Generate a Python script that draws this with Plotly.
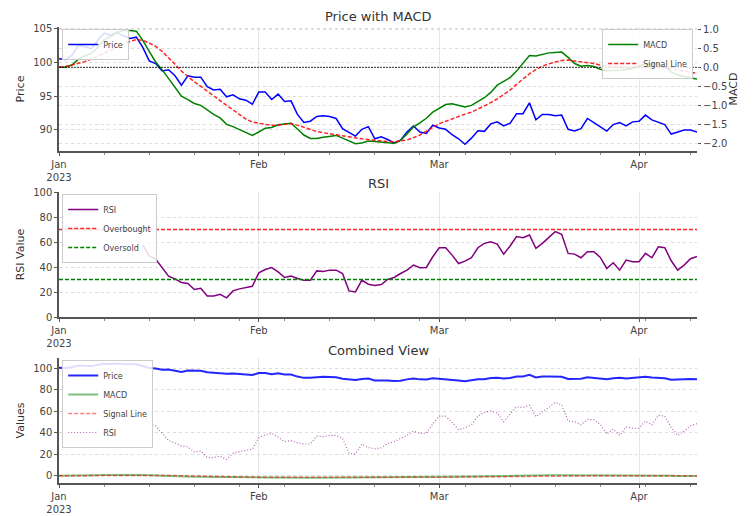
import pandas as pd
import plotly.graph_objects as go
from plotly.subplots import make_subplots

# daily data, 2023-01-01 .. 2023-04-10
dates = pd.date_range("2023-01-01", periods=100, freq="D")

price = [100.5, 100.4, 101.0, 102.5, 102.3, 102.0, 103.2, 104.3, 104.0, 104.4,
         103.9, 103.5, 103.7, 102.2, 100.2, 99.8, 98.7, 98.9, 98.0, 96.6,
         98.0, 97.8, 97.8, 96.4, 95.9, 96.0, 94.9, 95.2, 94.6, 94.4,
         93.8, 95.6, 95.6, 94.5, 95.3, 94.2, 94.3, 92.3, 91.1, 91.3,
         92.0, 92.1, 92.0, 91.7, 90.2, 89.6, 89.1, 90.1, 90.5, 88.7,
         89.0, 88.6, 88.1, 88.5, 89.7, 90.6, 89.7, 89.5, 90.7, 90.3,
         90.1, 89.3, 88.7, 87.9, 88.8, 89.9, 89.8, 90.9, 91.2, 90.6,
         91.0, 92.4, 92.4, 94.0, 91.5, 92.3, 92.3, 92.1, 92.2, 90.1,
         89.85, 90.2, 91.7, 91.1, 90.5, 89.85, 90.8, 91.1, 90.6, 91.2,
         91.3, 92.2, 91.5, 91.2, 90.8, 89.4, 89.7, 90.0, 90.0, 89.7]

macd = [0.0, 0.0, 0.06, 0.21, 0.31, 0.36, 0.52, 0.72, 0.81, 0.92,
        0.97, 0.97, 0.95, 0.71, 0.42, 0.14, -0.06, -0.29, -0.51, -0.76,
        -0.85, -0.95, -1.0, -1.12, -1.24, -1.33, -1.50, -1.56, -1.63, -1.70,
        -1.79, -1.70, -1.60, -1.58, -1.51, -1.49, -1.47, -1.62, -1.78, -1.87,
        -1.87, -1.84, -1.81, -1.79, -1.86, -1.94, -2.01, -1.99, -1.94, -1.95,
        -1.96, -1.98, -2.0, -1.92, -1.75, -1.57, -1.46, -1.34, -1.18, -1.07,
        -0.98, -0.96, -1.0, -1.04, -1.0, -0.9, -0.8, -0.66, -0.47, -0.37,
        -0.27, -0.1, 0.12, 0.31, 0.30, 0.34, 0.38, 0.39, 0.40, 0.26,
        0.1, 0.03, 0.05, 0.02, -0.05, -0.09, -0.09, -0.08, -0.06, -0.03,
        0.04, 0.08, 0.09, 0.08, 0.02, -0.12, -0.2, -0.25, -0.28, -0.31]

signal = [0.0, 0.02, 0.06, 0.1, 0.15, 0.22, 0.3, 0.38, 0.46, 0.54,
          0.61, 0.68, 0.73, 0.71, 0.64, 0.55, 0.42, 0.26, 0.08, -0.1,
          -0.25, -0.38, -0.5, -0.63, -0.76, -0.89, -1.0, -1.12, -1.25, -1.36,
          -1.44, -1.48, -1.5, -1.52, -1.52, -1.5, -1.48, -1.52, -1.58, -1.64,
          -1.69, -1.72, -1.75, -1.77, -1.80, -1.83, -1.86, -1.88, -1.90, -1.92,
          -1.93, -1.95, -1.96, -1.94, -1.91, -1.85, -1.78, -1.68, -1.57, -1.48,
          -1.42, -1.35, -1.29, -1.23, -1.18, -1.10, -1.03, -0.93, -0.83, -0.72,
          -0.6, -0.45, -0.3, -0.17, -0.06, 0.03, 0.09, 0.14, 0.18, 0.19,
          0.17, 0.14, 0.12, 0.1, 0.06, 0.03, 0.01, 0.0, -0.01, 0.0,
          0.01, 0.03, 0.03, 0.02, -0.01, -0.04, -0.07, -0.10, -0.13, -0.16]

rsi = [None] * 13 + [
    57.6, 48.7, 46.3, 39.6, 32.7, 30.5, 27.6, 26.8, 22.0, 23.0,
    16.9, 16.9, 18.2, 15.3, 20.9, 22.5, 23.3, 24.6, 35.3, 38.0,
    39.5, 36.1, 31.6, 32.7, 30.8, 29.5, 29.5, 36.9, 36.4, 37.5,
    37.5, 34.8, 20.9, 20.1, 29.5, 26.2, 25.2, 26.0, 30.0, 31.6,
    34.8, 37.5, 41.5, 39.4, 39.6, 48.2, 55.4, 55.4, 49.5, 42.8,
    44.7, 47.4, 55.4, 58.9, 60.2, 58.4, 50.3, 56.8, 64.3, 63.5,
    65.6, 54.9, 58.9, 63.6, 68.3, 66.1, 50.9, 50.3, 47.4, 52.2,
    52.2, 47.7, 38.8, 43.4, 37.5, 45.5, 44.2, 44.2, 50.9, 47.4,
    56.2, 55.4, 45.0, 37.5, 41.5, 46.6, 48.5]

overbought = 70
oversold = 30

tick_dates = ["2023-01-01", "2023-02-01", "2023-03-01", "2023-04-01"]
tick_labels = ["Jan<br>2023", "Feb", "Mar", "Apr"]

FONT = "DejaVu Sans"
# page adds an 8px body margin, so the figure is drawn 8px in from the window corner
W, H = 746, 508

fig = make_subplots(rows=3, cols=1, specs=[[{"secondary_y": True}], [{}], [{}]])

# top: price + macd
fig.add_trace(go.Scatter(x=dates, y=price, name="Price", mode="lines",
                         line=dict(color="blue", width=1.5), legend="legend"),
              row=1, col=1, secondary_y=False)
fig.add_trace(go.Scatter(x=dates, y=macd, name="MACD", mode="lines",
                         line=dict(color="green", width=1.5), legend="legend2"),
              row=1, col=1, secondary_y=True)
fig.add_trace(go.Scatter(x=dates, y=signal, name="Signal Line", mode="lines",
                         line=dict(color="red", width=1.5, dash="4px,2px"), opacity=0.85,
                         legend="legend2"),
              row=1, col=1, secondary_y=True)
fig.add_hline(y=0, row=1, col=1, secondary_y=True,
              line=dict(color="black", width=1, dash="2px,1px"), opacity=0.8)

# middle: rsi
n = len(dates)
fig.add_trace(go.Scatter(x=dates, y=rsi, name="RSI", mode="lines",
                         line=dict(color="purple", width=1.5), legend="legend3"), row=2, col=1)
fig.add_trace(go.Scatter(x=dates, y=[overbought] * n, name="Overbought", mode="lines",
                         line=dict(color="red", width=1.3, dash="4px,2px"), opacity=0.85,
                         legend="legend3"), row=2, col=1)
fig.add_trace(go.Scatter(x=dates, y=[oversold] * n, name="Oversold", mode="lines",
                         line=dict(color="green", width=1.3, dash="4px,2px"),
                         legend="legend3"), row=2, col=1)

# bottom: combined
fig.add_trace(go.Scatter(x=dates, y=price, name="Price", mode="lines",
                         line=dict(color="blue", width=2), opacity=0.85, legend="legend4"), row=3, col=1)
fig.add_trace(go.Scatter(x=dates, y=macd, name="MACD", mode="lines",
                         line=dict(color="green", width=2), opacity=0.5, legend="legend4"), row=3, col=1)
fig.add_trace(go.Scatter(x=dates, y=signal, name="Signal Line", mode="lines",
                         line=dict(color="red", width=1.5, dash="4px,2px"), opacity=0.5,
                         legend="legend4"), row=3, col=1)
fig.add_trace(go.Scatter(x=dates, y=rsi, name="RSI", mode="lines",
                         line=dict(color="purple", width=1.2, dash="1px,2px"), opacity=0.6,
                         legend="legend4"), row=3, col=1)

def px_dom(top, bottom):
    return [1 - bottom / H, 1 - top / H]

axis_font = dict(family=FONT, size=10, color="#444")
xcommon = dict(type="date", range=["2023-01-01", "2023-04-10"],
               tickvals=tick_dates, ticktext=tick_labels, tickfont=axis_font,
               showgrid=True, gridcolor="#e6e6e6", gridwidth=1,
               showline=True, linecolor="#555", linewidth=1.5,
               ticks="outside", ticklen=3, tickcolor="#555",
               minor=dict(dtick=7 * 86400000, tick0="2023-01-01", ticks="outside",
                          ticklen=2, tickcolor="#888", showgrid=False),
               zeroline=False, automargin=False)
ycommon = dict(tickfont=axis_font, showgrid=True, gridcolor="#dddddd", griddash="dot",
               gridwidth=1, zeroline=False, ticks="outside", ticklen=3, tickcolor="#555",
               automargin=False, title_font=dict(family=FONT, size=11, color="#333"),
               title_standoff=6)

fig.update_layout(
    xaxis=dict(xcommon, domain=[0, 1], anchor="y"),
    xaxis2=dict(xcommon, domain=[0, 1], anchor="y3"),
    xaxis3=dict(xcommon, domain=[0, 1], anchor="y4"),
    yaxis=dict(ycommon, domain=px_dom(19, 143), range=[86.9, 105.2],
               tickvals=[90, 95, 100, 105], title_text="Price",
               showline=True, linecolor="#555", linewidth=1.5),
    yaxis2=dict(ycommon, range=[-2.2, 1.06], dtick=0.5, tickformat=".1f",
                title_text="MACD", title_standoff=2, showline=False,
                overlaying="y", side="right"),
    yaxis3=dict(ycommon, domain=px_dom(184, 309), range=[0, 100], dtick=20,
                title_text="RSI Value", showline=True, linecolor="#555", linewidth=1.5),
    yaxis4=dict(ycommon, domain=px_dom(350, 475), range=[-6.8, 109.6], dtick=20,
                title_text="Values", showline=True, linecolor="#555", linewidth=1.5),
)

leg = dict(font=dict(family=FONT, size=8, color="#444"), bgcolor="rgba(255,255,255,0.85)",
           bordercolor="#cccccc", borderwidth=1, xanchor="left", yanchor="top",
           itemwidth=30, tracegroupgap=0)
fig.update_layout(
    legend=dict(leg, x=0.005, y=1 - 21 / H),
    legend2=dict(leg, x=0.994, xanchor="right", y=1 - 21 / H),
    legend3=dict(leg, x=0.005, y=1 - 186 / H),
    legend4=dict(leg, x=0.005, y=1 - 352 / H),
)

for text, ypix in [("Price with MACD", 9), ("RSI", 175), ("Combined View", 342)]:
    fig.add_annotation(text=text, x=0.5, y=1 - ypix / H, xref="paper", yref="paper",
                       showarrow=False, yanchor="middle",
                       font=dict(family=FONT, size=13, color="#333"))

fig.update_layout(width=W, height=H, margin=dict(l=51, r=57, t=0, b=0),
                  plot_bgcolor="white", paper_bgcolor="white",
                  font=dict(family=FONT, color="#444"), showlegend=True)

fig.write_html("out.html")
